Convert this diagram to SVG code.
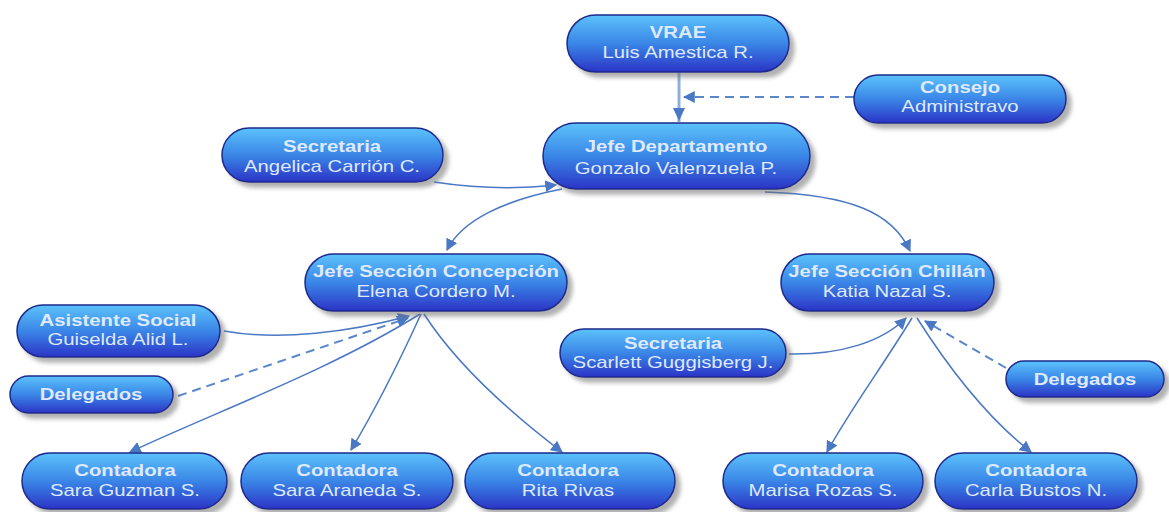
<svg xmlns="http://www.w3.org/2000/svg" width="1169" height="512" viewBox="0 0 1169 512">
<defs>
<linearGradient id="g" x1="0" y1="0" x2="0" y2="1">
<stop offset="0" stop-color="#5cc2fb"/>
<stop offset="0.5" stop-color="#3a86e7"/>
<stop offset="1" stop-color="#2b34c6"/>
</linearGradient>
<filter id="sh" x="-10%" y="-20%" width="130%" height="160%">
<feDropShadow dx="5" dy="5" stdDeviation="2" flood-color="#707070" flood-opacity="0.55"/>
</filter>
<marker id="ar" viewBox="0 0 10 10" refX="9" refY="5" markerWidth="12" markerHeight="12" markerUnits="userSpaceOnUse" orient="auto">
<path d="M0,0 L10,5 L0,10 z" fill="#4a78c4"/>
</marker>
</defs>
<style>
.n rect{fill:url(#g);stroke:#1e2a8c;stroke-width:1.5;filter:url(#sh)}
.t{font-family:"Liberation Sans",Arial,sans-serif;font-size:16px;fill:#dfe9ff;text-anchor:middle}
.b{font-weight:bold}
.c{fill:none;stroke:#4a78c4;stroke-width:1.5}
.d{stroke-dasharray:9 6;stroke-width:2;stroke:#5a86cc}
</style>
<rect width="1169" height="512" fill="#ffffff"/>

<g id="connectors">
<line x1="679" y1="72" x2="679" y2="122" stroke="#8eaedc" stroke-width="3"/>
<path d="M679 108 L673 108 L679 121 L685 108 z" fill="#4a78c4"/>
<path class="c d" d="M854 97 L684 97" marker-end="url(#ar)"/>
<path class="c" d="M434 182 C480 189 520 189 556 185" marker-end="url(#ar)"/>
<path class="c" d="M562 189 C505 200 462 220 447 250" marker-end="url(#ar)"/>
<path class="c" d="M765 192 C850 195 892 212 910 251" marker-end="url(#ar)"/>
<path class="c" d="M224 331 C280 341 350 332 409 316" marker-end="url(#ar)"/>
<path class="c d" d="M178 396 L408 318" marker-end="url(#ar)"/>
<path class="c" d="M420 314 C330 370 220 410 130 452" marker-end="url(#ar)"/>
<path class="c" d="M421 314 C400 360 375 410 351 450" marker-end="url(#ar)"/>
<path class="c" d="M424 314 C460 370 520 420 562 452" marker-end="url(#ar)"/>
<path class="c" d="M789 354 C840 355 882 342 906 318" marker-end="url(#ar)"/>
<path class="c d" d="M1006 368 L925 321" marker-end="url(#ar)"/>
<path class="c" d="M912 318 C880 370 850 410 827 452" marker-end="url(#ar)"/>
<path class="c" d="M917 318 C950 370 990 420 1031 452" marker-end="url(#ar)"/>
</g>

<g id="vrae" class="n"><rect x="567" y="15" width="222" height="57" rx="28.5"/>
<text class="t b" transform="translate(678 38) scale(1.27 1)">VRAE</text>
<text class="t" transform="translate(678 58) scale(1.27 1)">Luis Amestica R.</text></g>

<g id="consejo" class="n"><rect x="854" y="75" width="212" height="48" rx="24"/>
<text class="t b" transform="translate(960 93) scale(1.27 1)">Consejo</text>
<text class="t" transform="translate(960 112) scale(1.27 1)">Administravo</text></g>

<g id="jefe-dept" class="n"><rect x="543" y="123" width="267" height="66" rx="33"/>
<text class="t b" transform="translate(676 152) scale(1.27 1)">Jefe Departamento</text>
<text class="t" transform="translate(676 174) scale(1.27 1)">Gonzalo Valenzuela P.</text></g>

<g id="sec-angelica" class="n"><rect x="222" y="128" width="221" height="54" rx="27"/>
<text class="t b" transform="translate(332 152) scale(1.27 1)">Secretaria</text>
<text class="t" transform="translate(332 172) scale(1.27 1)">Angelica Carrión C.</text></g>

<g id="jefe-concepcion" class="n"><rect x="305" y="254" width="262" height="57" rx="28.5"/>
<text class="t b" transform="translate(436 277) scale(1.27 1)">Jefe Sección Concepción</text>
<text class="t" transform="translate(436 297) scale(1.27 1)">Elena Cordero M.</text></g>

<g id="jefe-chillan" class="n"><rect x="781" y="254" width="213" height="57" rx="28.5"/>
<text class="t b" transform="translate(887 277) scale(1.27 1)">Jefe Sección Chillán</text>
<text class="t" transform="translate(887 297) scale(1.27 1)">Katia Nazal S.</text></g>

<g id="asistente" class="n"><rect x="17" y="305" width="203" height="52" rx="26"/>
<text class="t b" transform="translate(118 326) scale(1.27 1)">Asistente Social</text>
<text class="t" transform="translate(118 345) scale(1.27 1)">Guiselda Alid L.</text></g>

<g id="delegados-l" class="n"><rect x="10" y="376" width="163" height="37" rx="18.5"/>
<text class="t b" transform="translate(91 400) scale(1.27 1)">Delegados</text></g>

<g id="sec-scarlett" class="n"><rect x="560" y="329" width="226" height="48" rx="24"/>
<text class="t b" transform="translate(673 349) scale(1.27 1)">Secretaria</text>
<text class="t" transform="translate(673 368) scale(1.27 1)">Scarlett Guggisberg J.</text></g>

<g id="delegados-r" class="n"><rect x="1006" y="361" width="158" height="36" rx="18"/>
<text class="t b" transform="translate(1085 385) scale(1.27 1)">Delegados</text></g>

<g id="c-guzman" class="n"><rect x="22" y="453" width="205" height="56" rx="28"/>
<text class="t b" transform="translate(125 476) scale(1.27 1)">Contadora</text>
<text class="t" transform="translate(125 496) scale(1.27 1)">Sara Guzman S.</text></g>

<g id="c-araneda" class="n"><rect x="241" y="453" width="212" height="56" rx="28"/>
<text class="t b" transform="translate(347 476) scale(1.27 1)">Contadora</text>
<text class="t" transform="translate(347 496) scale(1.27 1)">Sara Araneda S.</text></g>

<g id="c-rivas" class="n"><rect x="465" y="453" width="210" height="56" rx="28"/>
<text class="t b" transform="translate(568 476) scale(1.27 1)">Contadora</text>
<text class="t" transform="translate(568 496) scale(1.27 1)">Rita Rivas</text></g>

<g id="c-rozas" class="n"><rect x="723" y="453" width="200" height="56" rx="28"/>
<text class="t b" transform="translate(823 476) scale(1.27 1)">Contadora</text>
<text class="t" transform="translate(823 496) scale(1.27 1)">Marisa Rozas S.</text></g>

<g id="c-bustos" class="n"><rect x="935" y="453" width="202" height="56" rx="28"/>
<text class="t b" transform="translate(1036 476) scale(1.27 1)">Contadora</text>
<text class="t" transform="translate(1036 496) scale(1.27 1)">Carla Bustos N.</text></g>
</svg>
